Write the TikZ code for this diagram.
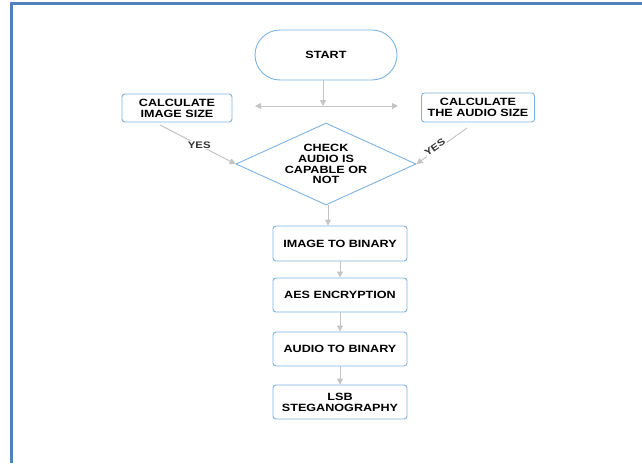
\documentclass[tikz,border=0pt]{standalone}
\usepackage{fontspec}
\setmainfont{Liberation Sans}[FakeStretch=1.2]
\usetikzlibrary{arrows.meta}
\usetikzlibrary{positioning}
\usetikzlibrary{shapes.geometric}
\definecolor{framecol}{HTML}{4F81BD}
\definecolor{boxcol}{HTML}{7DB3E2}
\definecolor{arrcol}{HTML}{C4C4C4}
\tikzset{stepbox/.style = {draw=boxcol, line width=0.9pt, rounded corners=3pt, fill=white,
    align=center, inner sep=1pt, font=\bfseries\fontsize{10.5}{10.8}\selectfont}}
\tikzset{termbox/.style = {stepbox, rounded corners=25pt}}
\tikzset{checkbox/.style = {stepbox, shape=diamond, rounded corners=0pt, inner sep=1pt, aspect=2.2}}
\tikzset{flow/.style = {draw=arrcol, line width=1pt, -{Triangle[length=6pt, width=6pt]}}}
\tikzset{yeslabel/.style = {fill=white, inner sep=0.5pt, font=\bfseries\fontsize{9.5}{9.5}\selectfont, text=black!80}}

\begin{document}
\begin{tikzpicture}[x=1pt, y=-1pt]
    \useasboundingbox (0, 0) rectangle (642, 463);
    \draw [framecol, line width=3pt] (642, 3) -- (11.5, 3) -- (11.5, 463);

    \node [termbox, minimum width=142, minimum height=50] (start) at (326, 55) {START};
    \node [stepbox, minimum width=110, minimum height=28] (imgsize) at (177, 108) {CALCULATE\\IMAGE SIZE};
    \node [stepbox, minimum width=113, minimum height=29] (audsize) at (478, 107.5) {CALCULATE\\THE AUDIO SIZE};
    \node [checkbox, minimum width=180, minimum height=82] (check) at (326, 164) {CHECK\\AUDIO IS\\CAPABLE OR\\NOT};
    \node [stepbox, minimum width=134, minimum height=35] (imgbin) at (340, 243.5) {IMAGE TO BINARY};
    \node [stepbox, minimum width=134, minimum height=34] (aes) at (340, 295) {AES ENCRYPTION};
    \node [stepbox, minimum width=134, minimum height=34] (audbin) at (340, 349) {AUDIO TO BINARY};
    \node [stepbox, minimum width=134, minimum height=34] (lsb) at (340, 402) {LSB\\STEGANOGRAPHY};

    \coordinate (split) at (323, 106);
    \coordinate (leftend) at (255, 106);
    \coordinate (rightend) at (398, 106);
    \coordinate (imgfoot) at (160, 125);
    \coordinate (audfoot) at (467, 128);

    \draw [flow] (start.south -| split) -- (split);
    \draw [flow] (split) -- (leftend);
    \draw [flow] (split) -- (rightend);
    \draw [flow] (imgfoot) -- (check.west) node [yeslabel, pos=0.52] {YES};
    \draw [flow] (audfoot) -- (check.east) node [yeslabel, pos=0.6, rotate=35, yshift=3] {YES};
    \draw [flow] (check.south -| 328, 0) -- (imgbin.north -| 328, 0);
    \draw [flow] (imgbin) -- (aes);
    \draw [flow] (aes) -- (audbin);
    \draw [flow] (audbin) -- (lsb);
\end{tikzpicture}
\end{document}
